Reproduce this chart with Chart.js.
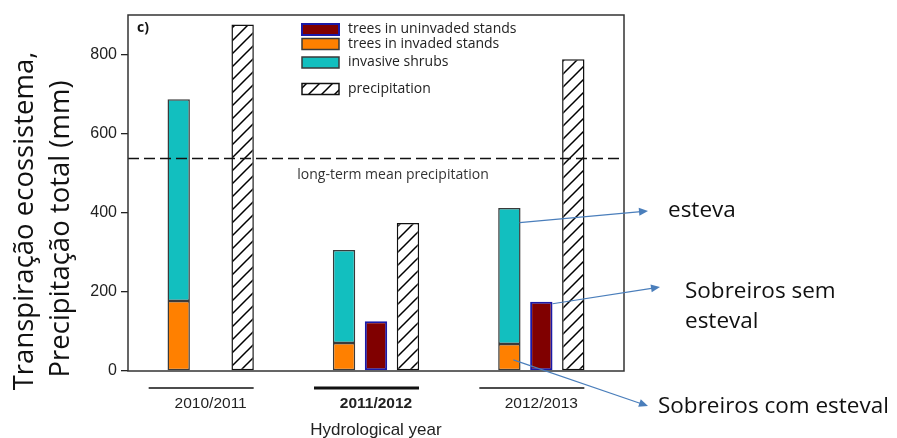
<!DOCTYPE html>
<html>
<head>
<meta charset="utf-8">
<script src="https://cdn.jsdelivr.net/npm/chart.js@4.4.1/dist/chart.umd.min.js"></script>
<style>
	html, body { margin: 0; padding: 0; background: #fff; }
</style>
</head>
<body>
<canvas id="grafico" width="897" height="438"></canvas>
<script>

	// datos (mm)
	var anos = ['2010/2011', '2011/2012', '2012/2013']
	var arvoresInvadidas = [177, 71, 68]
	var arbustosInvasores = [510, 235, 344]
	var arvoresNaoInvadidas = [null, 126, 175]
	var precipitacao = [876, 374, 788]
	var precipMedia = 537
	var yTicks = [0, 200, 400, 600, 800]

	var legendaOrdem = [2, 0, 1, 3]

	function rayado(){
		var c = document.createElement('canvas')
		c.width = 13
		c.height = 13
		var g = c.getContext('2d')
		g.fillStyle = '#fff'
		g.fillRect(0, 0, 13, 13)
		g.strokeStyle = '#000'
		g.lineWidth = 1.5
		g.beginPath()
		g.moveTo(-2, 15); g.lineTo(15, -2)
		g.moveTo(-2, 2); g.lineTo(2, -2)
		g.moveTo(11, 15); g.lineTo(15, 11)
		g.stroke()
		return g.createPattern(c, 'repeat')
	}

	function seta(g, x1, y1, x2, y2){
		var ang = Math.atan2(y2 - y1, x2 - x1)
		g.beginPath()
		g.moveTo(x1, y1)
		g.lineTo(x2 - 7 * Math.cos(ang), y2 - 7 * Math.sin(ang))
		g.stroke()
		g.beginPath()
		g.moveTo(x2, y2)
		g.lineTo(x2 - 9 * Math.cos(ang) + 4 * Math.sin(ang), y2 - 9 * Math.sin(ang) - 4 * Math.cos(ang))
		g.lineTo(x2 - 9 * Math.cos(ang) - 4 * Math.sin(ang), y2 - 9 * Math.sin(ang) + 4 * Math.cos(ang))
		g.closePath()
		g.fill()
	}

	// moldura, linha media, linhas das categorias, legenda e textos
	var extras = {
		id: 'extras',
		afterDatasetsDraw: function(chart){
			var g = chart.ctx
			var a = chart.chartArea
			var x = chart.scales.x
			var y = chart.scales.y

			g.save()

			// linha da precipitacao media
			var ym = y.getPixelForValue(precipMedia)
			g.strokeStyle = '#111'
			g.lineWidth = 1.5
			g.setLineDash([11, 5])
			g.beginPath()
			g.moveTo(a.left, ym)
			g.lineTo(a.right, ym)
			g.stroke()
			g.setLineDash([])

			g.fillStyle = '#333'
			g.font = '14px "Open Sans"'
			g.textAlign = 'center'
			g.textBaseline = 'middle'
			g.fillText('long-term mean precipitation', 393, ym + 16)

			// moldura
			g.strokeStyle = '#333'
			g.lineWidth = 1.5
			g.strokeRect(a.left, a.top, a.right - a.left, a.bottom - a.top)

			g.fillStyle = '#111'
			g.font = 'bold 14px "Open Sans"'
			g.textAlign = 'left'
			g.fillText('c)', a.left + 9, a.top + 13)

			// linhas por baixo dos anos
			anos.forEach(function(ano, i){
				var cx = x.getPixelForValue(i)
				g.strokeStyle = '#111'
				g.lineWidth = i === 1 ? 3 : 1.3
				g.beginPath()
				g.moveTo(cx - 62, 388)
				g.lineTo(cx + 43, 388)
				g.stroke()
			})

			// legenda
			var filas = [29.5, 44, 62.5, 89]
			legendaOrdem.forEach(function(idx, k){
				var ds = chart.data.datasets[idx]
				g.fillStyle = ds.backgroundColor
				g.fillRect(302, filas[k] - 5.5, 37, 11)
				g.strokeStyle = ds.borderColor
				g.lineWidth = ds.borderWidth
				g.strokeRect(302, filas[k] - 5.5, 37, 11)
				g.fillStyle = '#222'
				g.font = '14px "Open Sans"'
				g.textAlign = 'left'
				g.fillText(ds.label, 348, filas[k])
			})

			// setas e anotacoes
			g.strokeStyle = '#4a7ebb'
			g.fillStyle = '#4a7ebb'
			g.lineWidth = 1.2
			var arb = chart.getDatasetMeta(1).data[2]
			var naoInv = chart.getDatasetMeta(2).data[2]
			var inv = chart.getDatasetMeta(0).data[2]
			seta(g, arb.x + arb.width / 2 - 1, y.getPixelForValue(375), 648, 211)
			seta(g, naoInv.x + naoInv.width / 2, y.getPixelForValue(170), 660, 287)
			seta(g, inv.x + 4, y.getPixelForValue(28), 648, 406)

			g.fillStyle = '#111'
			g.font = '22.5px "Open Sans"'
			g.textAlign = 'left'
			g.fillText('esteva', 668, 211)
			g.fillText('Sobreiros sem', 685, 292)
			g.fillText('esteval', 685, 322)
			g.fillText('Sobreiros com esteval', 658, 407)

			// titulo do eixo y
			g.font = '27.5px "Open Sans"'
			g.textAlign = 'center'
			g.translate(25, 221)
			g.rotate(-Math.PI / 2)
			g.fillText('Transpiração ecossistema,', 0, 0)
			g.fillText('Precipitação total (mm)', -8, 36)

			g.restore()
		}
	}

	var ctx = document.getElementById('grafico').getContext('2d')
	window.grafico = new Chart(ctx, {
		type: 'bar',
		data: {
			labels: anos,
			datasets: [{
				label: 'trees in invaded stands',
				data: arvoresInvadidas,
				stack: 'a',
				backgroundColor: '#ff8000',
				borderColor: '#3a3a3a',
				borderWidth: 1.5
			}, {
				label: 'invasive shrubs',
				data: arbustosInvasores,
				stack: 'a',
				backgroundColor: '#12bfbf',
				borderColor: '#3a3a3a',
				borderWidth: 1.5
			}, {
				label: 'trees in uninvaded stands',
				data: arvoresNaoInvadidas,
				stack: 'b',
				backgroundColor: '#800000',
				borderColor: '#1a1aa8',
				borderWidth: 2
			}, {
				label: 'precipitation',
				data: precipitacao,
				stack: 'c',
				backgroundColor: rayado(),
				borderColor: '#111',
				borderWidth: 1.5
			}]
		},
		options: {
			responsive: false,
			animation: false,
			categoryPercentage: 0.58,
			barPercentage: 0.7,
			borderSkipped: false,
			layout: {
				padding: {left: 0, right: 273, top: 15, bottom: 0}
			},
			plugins: {
				legend: {display: false},
				tooltip: {enabled: false}
			},
			scales: {
				x: {
					stacked: true,
					grid: {display: false, drawTicks: false},
					border: {display: false},
					ticks: {
						color: '#222',
						padding: 23,
						font: function(c){
							return {family: 'Liberation Sans', size: 15.5, weight: c.index === 1 ? 'bold' : 'normal'}
						}
					},
					title: {
						display: true,
						text: 'Hydrological year',
						color: '#222',
						font: {family: 'Liberation Sans', size: 17},
						padding: {top: 0, bottom: -3}
					},
					afterFit: function(s){ s.height = 67 }
				},
				y: {
					stacked: true,
					min: 0,
					max: 900,
					grid: {drawOnChartArea: false, color: '#222', tickLength: 7, lineWidth: 1.3},
					border: {display: false},
					ticks: {
						color: '#222',
						padding: 4,
						font: {family: 'Liberation Sans', size: 16}
					},
					afterBuildTicks: function(s){
						s.ticks = yTicks.map(function(v){ return {value: v} })
					},
					afterFit: function(s){ s.width = 128 }
				}
			}
		},
		plugins: [extras]
	})

</script>
</body>
</html>
